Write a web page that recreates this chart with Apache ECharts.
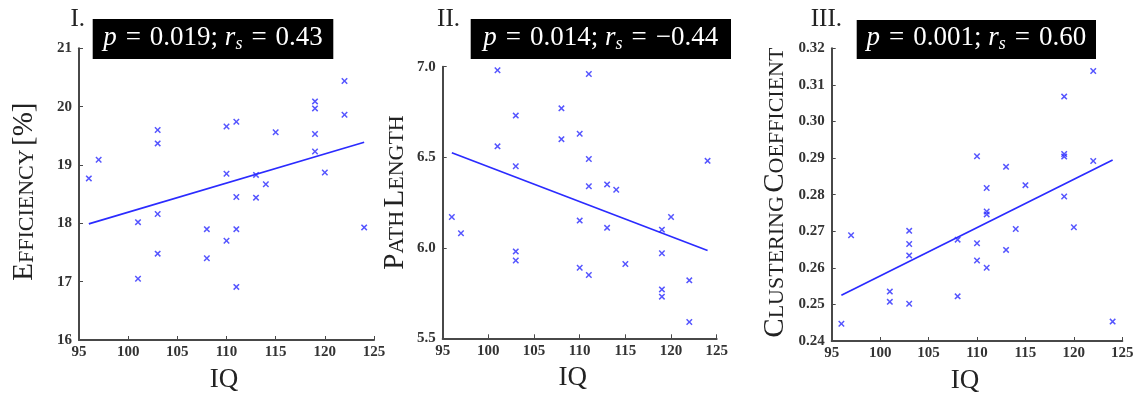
<!DOCTYPE html>
<html>
<head>
<meta charset="utf-8">
<script src="https://cdn.jsdelivr.net/npm/echarts@6/dist/echarts.min.js"></script>
<style>
html,body{margin:0;padding:0;background:#fff;}
#chart{width:1144px;height:399px;}
</style>
</head>
<body>
<div id="chart"></div>
<script>
// ---- data ----
const iq = [96,97,101,101,103,103,103,103,108,108,110,110,110,111,111,111,111,113,113,114,115,119,119,119,119,120,122,122,124];
const efficiency = [18.77,19.09,18.02,17.05,19.60,19.37,18.16,17.48,17.90,17.40,19.66,18.85,17.70,19.74,18.45,17.90,16.91,18.83,18.44,18.67,19.56,20.09,19.97,19.53,19.23,18.87,20.44,19.86,17.93];
const pathLength = [6.17,6.08,6.98,6.56,6.73,6.45,5.98,5.93,6.77,6.60,6.63,6.15,5.89,6.96,6.49,6.34,5.85,6.35,6.11,6.32,5.91,6.10,5.97,5.77,5.73,6.17,5.82,5.59,6.48];
const clustering = [0.2447,0.2689,0.2535,0.2507,0.2701,0.2665,0.2634,0.2502,0.2677,0.2522,0.2905,0.2667,0.2620,0.2818,0.2754,0.2746,0.2600,0.2876,0.2649,0.2706,0.2826,0.3068,0.2911,0.2904,0.2795,0.2711,0.3138,0.2892,0.2453];
const fitX = [96,124];
const fitEfficiency = [17.99,19.39];
const fitPath = [6.525,5.985];
const fitClustering = [0.2525,0.2895];
const panelLabels = ['I.','II.','III.'];
const pValues = ['0.019','0.014','0.001'];
const rsValues = ['0.43','\u22120.44','0.60'];

// ---- styling ----
const SERIF = '"Liberation Serif","DejaVu Serif",serif';
const AXIS_COLOR = '#484848';
const BLUE = '#2b2bff';
const crossPath = 'path://M0,1.6L1.6,0L5,3.4L8.4,0L10,1.6L6.6,5L10,8.4L8.4,10L5,6.6L1.6,10L0,8.4L3.4,5Z';

const grids = [
  {left:79, top:48.3, width:295, height:291.7},
  {left:442.7, top:66.7, width:274, height:271.6},
  {left:831.7, top:48.3, width:290.6, height:293.4}
];
const yRanges = [
  {min:16, max:21, interval:1, fmt:v=>String(v)},
  {min:5.5, max:7.0, interval:0.5, fmt:v=>v.toFixed(1)},
  {min:0.24, max:0.32, interval:0.01, fmt:v=>v.toFixed(2)}
];
const yNames = [
  '{b|E}{s|FFICIENCY} {b|[%]}',
  '{b|P}{s|ATH} {b|L}{s|ENGTH}',
  '{b|C}{s|LUSTERING} {b|C}{s|OEFFICIENT}'
];
const yNameGaps = [40, 33, 42];
const yNamePads = [[0,0,0,5],[0,0,0,20],[0,0,0,4]];
const xNamePads = [[0,5,0,0],[0,14,0,0],[0,24,0,0]];

const rich = {
  b:{fontFamily:SERIF, fontSize:29, lineHeight:29, verticalAlign:'bottom', color:'#222'},
  s:{fontFamily:SERIF, fontSize:22, lineHeight:22, verticalAlign:'bottom', color:'#222', padding:[0,0,1,0]}
};

const xAxes = grids.map((g,i)=>({
  gridIndex:i, type:'value', min:95, max:125, interval:5,
  name:'IQ', nameLocation:'middle', nameGap:26,
  nameTextStyle:{fontFamily:SERIF, fontSize:27, color:'#222', padding:xNamePads[i]},
  axisLine:{show:true, onZero:false, lineStyle:{color:AXIS_COLOR, width:2}},
  axisTick:{show:true, inside:true, length:4, lineStyle:{color:AXIS_COLOR, width:1}},
  axisLabel:{fontFamily:SERIF, fontSize:15, fontWeight:'bold', color:'#333', margin:5},
  splitLine:{show:false}
}));
const yAxes = grids.map((g,i)=>({
  gridIndex:i, type:'value', min:yRanges[i].min, max:yRanges[i].max, interval:yRanges[i].interval,
  name:yNames[i], nameLocation:'middle', nameRotate:90, nameGap:yNameGaps[i],
  nameTextStyle:{rich:rich, padding:yNamePads[i]},
  axisLine:{show:true, onZero:false, lineStyle:{color:AXIS_COLOR, width:2}},
  axisTick:{show:true, inside:true, length:4, lineStyle:{color:AXIS_COLOR, width:1}},
  axisLabel:{fontFamily:SERIF, fontSize:15, fontWeight:'bold', color:'#333', margin:7, formatter:yRanges[i].fmt},
  splitLine:{show:false}
}));

const metrics = [efficiency, pathLength, clustering];
const fits = [fitEfficiency, fitPath, fitClustering];
const series = [];
metrics.forEach((vals,i)=>{
  series.push({
    type:'line', xAxisIndex:i, yAxisIndex:i, symbol:'none', silent:true,
    data: fitX.map((x,k)=>[x, fits[i][k]]),
    lineStyle:{color:BLUE, width:1.7}
  });
  series.push({
    type:'scatter', xAxisIndex:i, yAxisIndex:i,
    symbol:crossPath, symbolSize:6.5,
    itemStyle:{color:BLUE},
    data: iq.map((x,k)=>[x, vals[k]])
  });
});

// stat boxes + panel numerals
const boxes = [
  {x:92.7, y:19, w:240.6, h:40},
  {x:470.7, y:19, w:260.3, h:40},
  {x:856.7, y:20, w:239.3, h:39}
];
const numerals = [{x:85, y:19.5},{x:460, y:19.5},{x:842, y:19.5}];
const SP = '\u2004';
const graphic = [];
boxes.forEach((b,i)=>{
  graphic.push({type:'rect', silent:true, shape:{x:b.x, y:b.y, width:b.w, height:b.h}, style:{fill:'#000'}});
  graphic.push({type:'text', silent:true, x:b.x + b.w/2, y:37.5,
    style:{
      text:'{i|p}' + SP + '=' + SP + pValues[i] + '; {i|r}{sub|s}' + SP + '=' + SP + rsValues[i],
      fill:'#fff', font:'27px ' + SERIF, align:'center', verticalAlign:'middle',
      rich:{
        i:{fontStyle:'italic', fontSize:27, fontFamily:SERIF, color:'#fff'},
        sub:{fontStyle:'italic', fontSize:18, fontFamily:SERIF, color:'#fff', padding:[14,0,0,0]}
      }
    }});
  graphic.push({type:'text', silent:true, x:numerals[i].x, y:numerals[i].y,
    style:{text:panelLabels[i], fill:'#222', font:'25px ' + SERIF, align:'right', verticalAlign:'middle'}});
});

const chart = echarts.init(document.getElementById('chart'), null, {renderer:'canvas'});
chart.setOption({
  animation:false,
  backgroundColor:'#fff',
  grid: grids,
  xAxis: xAxes,
  yAxis: yAxes,
  series: series,
  graphic: graphic
});
</script>
</body>
</html>
